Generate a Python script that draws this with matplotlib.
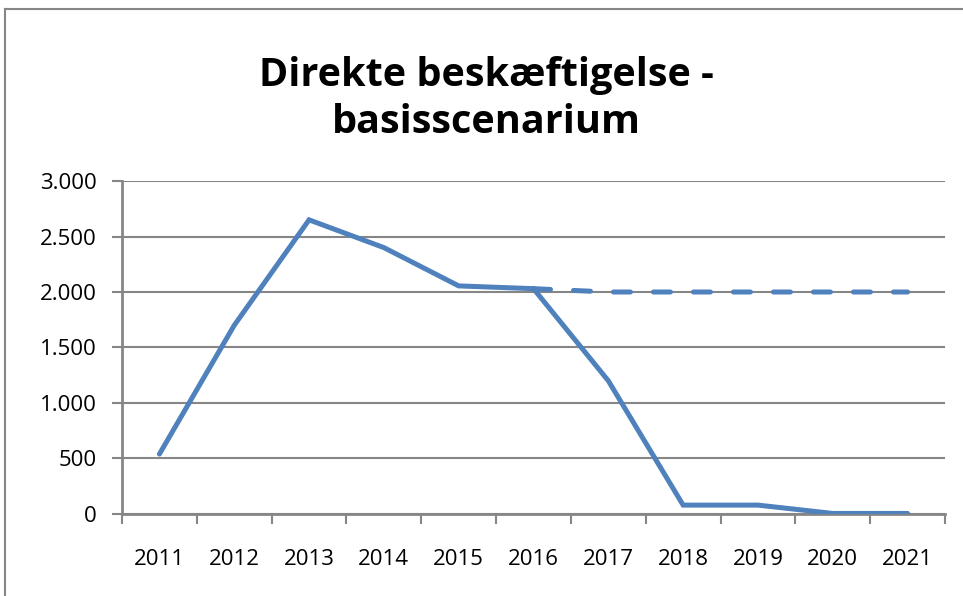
import matplotlib.pyplot as plt
from matplotlib.lines import Line2D
from matplotlib.ticker import FuncFormatter
import numpy as np

# Data
years = ['2011', '2012', '2013', '2014', '2015', '2016',
         '2017', '2018', '2019', '2020', '2021']
direct = [540, 1700, 2650, 2400, 2055, 2030, 1200, 80, 80, 5, 5]
dashed_years = ['2016', '2017', '2018', '2019', '2020', '2021']
dashed_vals = [2030, 2000, 2000, 2000, 2000, 2000]

blue = '#4F81BD'
grid_gray = '#868686'
fonts = ['Open Sans', 'DejaVu Sans']

fig = plt.figure(figsize=(9.63, 5.96), dpi=100)
ax = fig.add_axes([0.1267, 0.1376, 0.9813 - 0.1267, 0.6963 - 0.1376])

x = np.arange(len(years))
xd = np.array([years.index(y) for y in dashed_years])

ax.plot(xd, dashed_vals, color=blue, linewidth=3.6, linestyle=(0, (3.4, 4.6)),
        dash_capstyle='round', solid_capstyle='round', zorder=3)
ax.plot(x, direct, color=blue, linewidth=3.6, solid_joinstyle='miter',
        solid_capstyle='round', zorder=4)

ax.set_xlim(-0.5, len(years) - 0.5)
ax.set_ylim(0, 3000)
ax.set_yticks(np.arange(0, 3001, 500))
ax.yaxis.set_major_formatter(FuncFormatter(lambda v, p: f'{int(v):,}'.replace(',', '.')))
ax.grid(axis='y', color=grid_gray, linewidth=1.5, zorder=1)
ax.set_axisbelow(True)

ax.set_xticks(x)
ax.set_xticklabels(years)
ax.set_xticks(np.arange(-0.5, len(years)), minor=True)
ax.tick_params(axis='x', which='major', length=0, pad=25, labelsize=16)
ax.tick_params(axis='x', which='minor', length=7, width=1.5, color=grid_gray)
ax.tick_params(axis='y', length=7, width=1.5, color=grid_gray, pad=11, labelsize=16)
for lab in ax.get_xticklabels() + ax.get_yticklabels():
    lab.set_family(fonts)

for s in ['top', 'right']:
    ax.spines[s].set_visible(False)
for s in ['left', 'bottom']:
    ax.spines[s].set_color(grid_gray)
    ax.spines[s].set_linewidth(2)

fig.text(0.505, 0.834, 'Direkte beskæftigelse -\nbasisscenarium', ha='center', va='center',
         fontsize=28.5, fontweight='bold', family=fonts, linespacing=1.25)

# outer chart frame (partially visible)
fig.add_artist(Line2D([5 / 963, 5 / 963], [0, 1 - 9 / 596], color=grid_gray, linewidth=1.5))
fig.add_artist(Line2D([5 / 963, 1], [1 - 9 / 596, 1 - 9 / 596], color=grid_gray, linewidth=1.5))

fig.savefig('out.png', dpi=100)
